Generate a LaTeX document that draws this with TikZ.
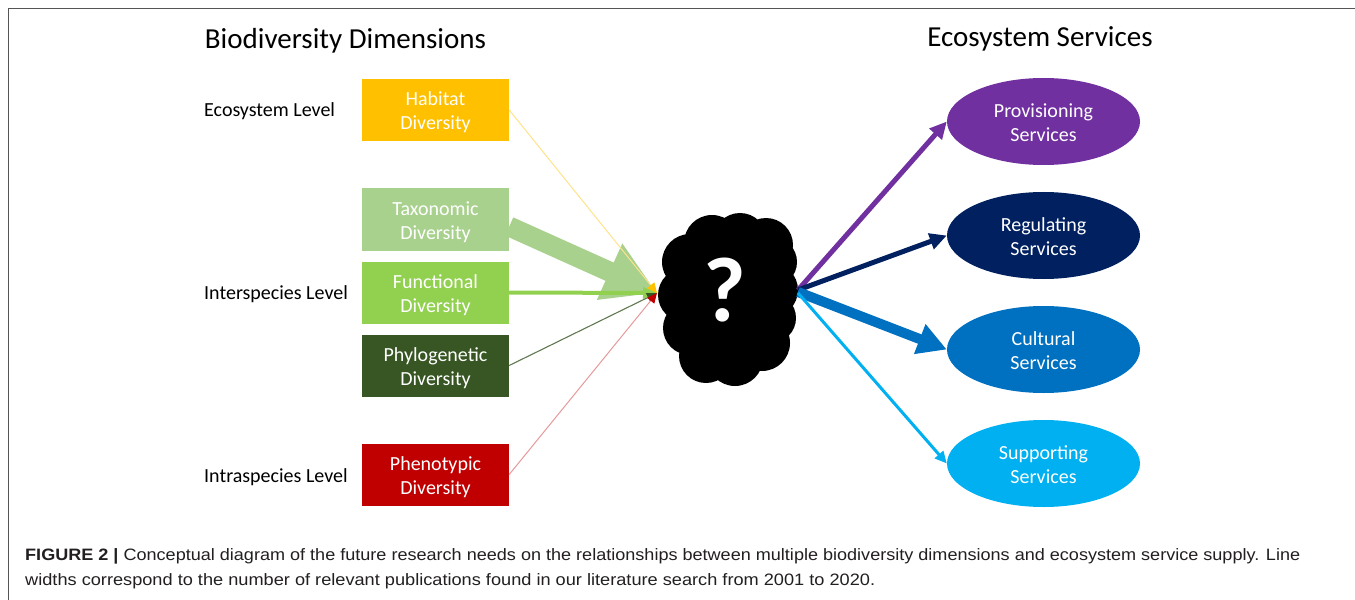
\documentclass[tikz,border=0pt]{standalone}
\usepackage{graphicx}
\usepackage{fontspec}
\setmainfont{Carlito}
\newfontfamily\capfont{Liberation Sans}
\usetikzlibrary{arrows.meta,shapes.geometric}

\definecolor{habitat}{HTML}{FFC000}
\definecolor{taxo}{HTML}{A9D18E}
\definecolor{func}{HTML}{92D050}
\definecolor{phylo}{HTML}{375623}
\definecolor{pheno}{HTML}{C00000}
\definecolor{prov}{HTML}{7030A0}
\definecolor{regul}{HTML}{002060}
\definecolor{cult}{HTML}{0070C0}
\definecolor{supp}{HTML}{00B0F0}
\definecolor{captext}{HTML}{231F20}
\definecolor{framegray}{HTML}{555555}

% taller first line, so two-line labels sit a little lower in their shapes
\newcommand\boxstrut{\rule{0pt}{19bp}}
\newcommand\ovalstrut{\rule{0pt}{16bp}}

\begin{document}
\begin{tikzpicture}[x=1bp,y=-1bp,
  bodyfont/.style={font=\fontsize{20bp}{24bp}\selectfont},
  heading/.style={anchor=base, inner sep=0pt, font=\fontsize{29bp}{34bp}\selectfont},
  level/.style={anchor=base west, inner sep=0pt, bodyfont},
  dimbox/.style={fill=#1, draw=none, minimum width=147bp, minimum height=62bp,
    inner sep=0pt, text=white, align=center, bodyfont},
  service/.style={ellipse, fill=#1, draw=none, minimum width=193bp, minimum height=87bp,
    inner sep=0pt, text=white, align=center, bodyfont},
  link/.style args={#1/#2/#3/#4/#5}{draw=#1, line width=#2,
    -{Triangle[length=#3, width=#4, color=#5]}},
  capline/.style={anchor=base west, inner sep=0pt, text=captext,
    font=\capfont\fontsize{16.5bp}{20bp}\selectfont},
  frameline/.style={draw=framegray, line width=1.5bp}
]
\useasboundingbox (0,0) rectangle (1355,600);

% frame: top and left rules
\draw[frameline] (8.5,600) -- (8.5,8.5) -- (1355,8.5);

% headings
\node[heading] (hdim) at (345.5,49) {Biodiversity Dimensions};
\node[heading] (hserv) at (1040,46.5) {Ecosystem Services};

% organisation levels
\node[level] (lvleco) at (204,116.5) {Ecosystem Level};
\node[level] (lvlinter) at (204,299) {Interspecies Level};
\node[level] (lvlintra) at (204,482) {Intraspecies Level};

% biodiversity dimensions
\node[dimbox=habitat] (hab) at (435.5,110) {\boxstrut Habitat\\Diversity};
\node[dimbox=taxo] (tax) at (435.5,219.5) {\boxstrut Taxonomic\\Diversity};
\node[dimbox=func] (fun) at (435.5,292.5) {\boxstrut Functional\\Diversity};
\node[dimbox=phylo] (phy) at (435.5,365.5) {\boxstrut Phylogenetic\\Diversity};
\node[dimbox=pheno] (phe) at (435.5,474.5) {\boxstrut Phenotypic\\Diversity};

% ecosystem services
\node[service=prov] (sprov) at (1043.5,121.5) {\ovalstrut Provisioning\\Services};
\node[service=regul] (sreg) at (1043.5,235.5) {\ovalstrut Regulating\\Services};
\node[service=cult] (scul) at (1043.5,349.5) {\ovalstrut Cultural\\Services};
\node[service=supp] (ssup) at (1043.5,463.5) {\ovalstrut Supporting\\Services};

% the black cloud of unknowns
\fill[black]
  (728,298) ellipse[x radius=62bp, y radius=74bp]
  (712,243) circle[radius=28bp]
  (740,240) circle[radius=27bp]
  (766,245) circle[radius=27bp]
  (690,262) circle[radius=28bp]
  (685,295) circle[radius=27bp]
  (690,328) circle[radius=27bp]
  (706,356) circle[radius=27bp]
  (735,358) circle[radius=28bp]
  (762,343) circle[radius=28bp]
  (771,318) circle[radius=25bp]
  (771,290) circle[radius=27bp]
  (772,262) circle[radius=25bp];
\node[text=white, inner sep=0pt, font=\bfseries\fontsize{92bp}{94bp}\selectfont]
  (cloud) at (725,290) {?};
\coordinate (cl) at (657,293);
\coordinate (cr) at (798,290);

% incoming links, widths follow publication counts
\draw[link=taxo/20bp/52bp/58bp/taxo] ([yshift=-7bp]tax.east) -- (cl);
\draw[link=habitat!45/1bp/10bp/9bp/habitat] (hab.east) -- (cl);
\draw[link=func/4bp/14bp/11bp/func] (fun.east) -- (cl);
\draw[link=phylo!80/1.1bp/10bp/9bp/phylo] (phy.east) -- (cl);
\draw[link=pheno!40/1bp/10bp/9bp/pheno] (phe.east) -- (cl);

% outgoing links
\draw[link=prov/5bp/17bp/16bp/prov] (cr) -- (sprov.west);
\draw[link=regul/5bp/17bp/16bp/regul] (cr) -- (sreg.west);
\draw[link=cult/10bp/29bp/30bp/cult] ([yshift=-2bp]cr) -- (scul.west);
\draw[link=supp/3bp/12bp/11bp/supp] ([yshift=-3bp]cr) -- (ssup.west);

% caption
\node[capline] (cap1) at (25,560) {\resizebox{1275bp}{\height}{\textbf{FIGURE 2 |} Conceptual diagram of the future research needs on the relationships between multiple biodiversity dimensions and ecosystem service supply. Line}};
\node[capline] (cap2) at (25,585) {\resizebox{850bp}{\height}{widths correspond to the number of relevant publications found in our literature search from 2001 to 2020.}};
\end{tikzpicture}
\end{document}
